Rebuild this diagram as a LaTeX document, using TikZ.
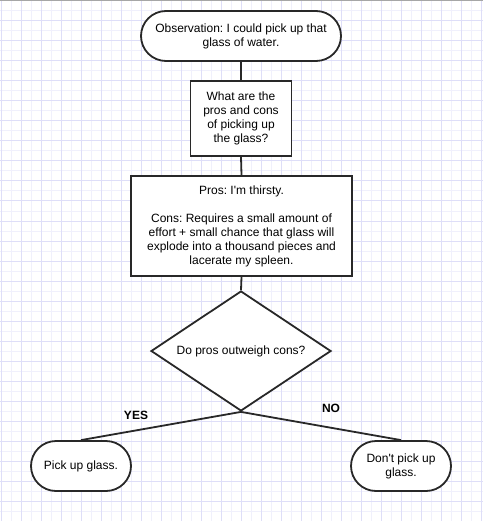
\documentclass[tikz,border=0pt]{standalone}
\usepackage{fontspec}
\setmainfont{Liberation Sans}[Ligatures=TeXOff]
\usetikzlibrary{shapes.geometric}
\frenchspacing
\definecolor{gridmajor}{RGB}{222,222,248}
\definecolor{gridminor}{RGB}{240,240,252}
\definecolor{linecol}{RGB}{40,40,40}
\tikzset{
  basefont/.style={font=\fontsize{12}{14}\selectfont\frenchspacing},
  terminal/.style={basefont, draw=linecol, line width=1.8pt, rounded corners=25pt, fill=white,
    minimum width=#1, minimum height=50pt, inner sep=0pt, align=center},
  process/.style={basefont, draw=linecol, line width=1.8pt, fill=white, inner sep=0pt, align=center},
  decision/.style={diamond, draw=linecol, line width=1.8pt, fill=white, inner sep=0pt,
    minimum width=180pt, minimum height=120pt, aspect=1.5},
  plain/.style={basefont, inner sep=0pt, align=center},
  edgelabel/.style={font=\fontsize{12}{14}\selectfont\bfseries, inner sep=0pt},
  conn/.style={draw=linecol, line width=1.8pt},
  majorline/.style={draw=gridmajor, line width=1pt},
  minorline/.style={draw=gridminor, line width=1pt}
}
\begin{document}
\begin{tikzpicture}[x=1pt, y=-1pt]
\useasboundingbox (0,0) rectangle (483,521);
\fill[white] (0,0) rectangle (483,521);
% grid
\foreach \v in {11,31,...,511} \draw[minorline] (\v,0) -- (\v,521);
\foreach \v in {11,31,...,511} \draw[minorline] (0,\v) -- (483,\v);
\foreach \v in {1,21,...,481} \draw[majorline] (\v,0) -- (\v,521);
\foreach \v in {1,21,...,501} \draw[majorline] (0,\v) -- (483,\v);
\draw[draw=gray!70, line width=1pt] (0,0.5) -- (483,0.5);

% nodes
\node[terminal=200pt] (obs) at (241,36) {Observation: I could pick up that\\glass of water.};
\node[process, minimum width=101pt, minimum height=75pt] (q) at (241,118.5)
  {What are the\\pros and cons\\of picking up\\the glass?};
\node[process, minimum width=221pt, minimum height=100pt] (pc) at (241.5,226)
  {Pros: I'm thirsty.\\[14pt]Cons: Requires a small amount of\\effort + small chance that glass will\\explode into a thousand pieces and\\lacerate my spleen.};
\node[decision] (d) at (241,351) {};
\node[plain] (dtext) at (d.center) {Do pros outweigh cons?};
\node[terminal=100pt] (yes) at (81,466) {Pick up glass.};
\node[terminal=100pt] (no) at (401,466) {Don't pick up\\glass.};
\node[edgelabel] (yeslabel) at (136,415) {YES};
\node[edgelabel] (nolabel) at (331,408.5) {NO};

% connectors
\draw[conn] (obs.south) -- (q.north);
\draw[conn] (q.south) -- (pc.north);
\draw[conn] (pc.south) -- (d.north);
\draw[conn] (d.south) -- (yes.north);
\draw[conn] (d.south) -- (no.north);
\end{tikzpicture}
\end{document}
